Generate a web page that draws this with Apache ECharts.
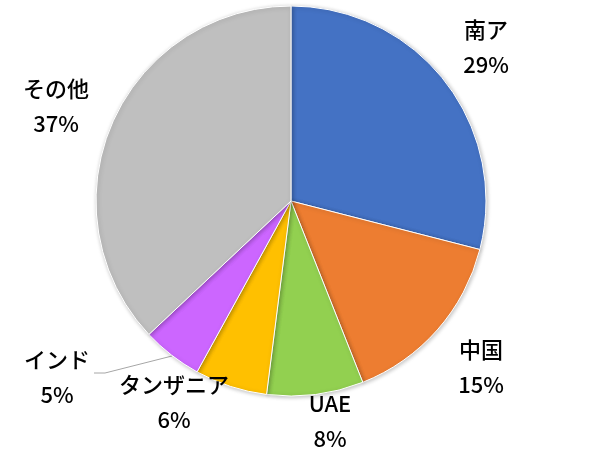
<!DOCTYPE html>
<html>
<head>
<meta charset="utf-8">
<script src="https://cdn.jsdelivr.net/npm/echarts@6/dist/echarts.min.js"></script>
<style>
  html, body { margin: 0; padding: 0; background: #fff; }
  #main { width: 589px; height: 451px; }
</style>
</head>
<body>
<div id="main"></div>
<script>
// データ
const names = ["南ア", "中国", "UAE", "タンザニア", "インド", "その他"];
const shares = [29, 15, 8, 6, 5, 37];
const colors = ["#4472C4", "#ED7D31", "#92D050", "#FFC000", "#CC66FF", "#BFBFBF"];
// ラベルの位置（中心）
const labelPos = [[486, 47], [481, 367], [330, 421], [174, 402], [57, 377], [56, 106]];

const chart = echarts.init(document.getElementById("main"));

const option = {
  animation: false,
  series: [
    {
      type: "pie",
      center: [291, 201],
      radius: 195,
      startAngle: 90,
      clockwise: true,
      itemStyle: {
        borderColor: "#fff",
        borderWidth: 1,
        shadowBlur: 4,
        shadowColor: "rgba(0,0,0,0.25)",
        shadowOffsetX: 1,
        shadowOffsetY: 1
      },
      emphasis: { disabled: true },
      label: {
        show: true,
        position: "outside",
        formatter: "{b}\n{c}%",
        color: "#000",
        fontSize: 22,
        fontWeight: 500,
        lineHeight: 35,
        fontFamily: "Noto Sans CJK JP",
        align: "center",
        overflow: "none",
        width: 200
      },
      labelLine: { show: false },
      labelLayout: function (params) {
        const p = labelPos[params.dataIndex];
        const res = {
          x: p[0],
          y: p[1],
          align: "center",
          verticalAlign: "middle"
        };
        if (names[params.dataIndex] === "インド") {
          // 引き出し線
          res.labelLinePoints = [[172, 356], [105, 373], [94, 373]];
        }
        return res;
      },
      data: names.map(function (n, i) {
        const item = { name: n, value: shares[i], itemStyle: { color: colors[i] } };
        if (n === "インド") {
          item.labelLine = {
            show: true,
            length: 10,
            length2: 10,
            lineStyle: { color: "#A6A6A6", width: 1 }
          };
        }
        return item;
      })
    }
  ]
};

chart.setOption(option);
</script>
</body>
</html>
